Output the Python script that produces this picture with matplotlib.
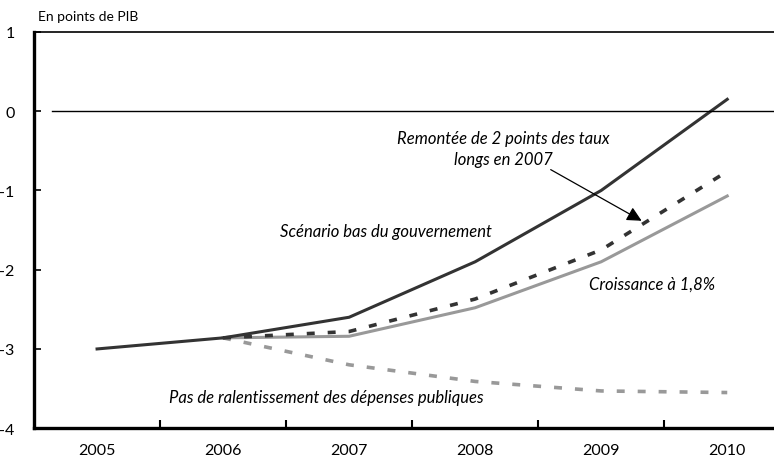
# Solde public : scénarios 2005-2010

import matplotlib.pyplot as plt

plt.rcParams['font.family'] = ['Lato', 'DejaVu Sans']

years = [2005, 2006, 2007, 2008, 2009, 2010]
bas_gouv = [-3.0, -2.86, -2.6, -1.9, -1.0, 0.15]
years_var = [2006, 2007, 2008, 2009, 2010]
remontee_taux = [-2.86, -2.78, -2.37, -1.75, -0.76]
croissance_18 = [-2.86, -2.84, -2.48, -1.9, -1.07]
pas_ralent = [-2.86, -3.2, -3.41, -3.53, -3.55]
yticks = [1, 0, -1, -2, -3, -4]

fig = plt.figure(figsize=(7.74, 4.64), dpi=100)
ax = fig.add_axes([0.044, 0.075, 0.977, 0.854])

dark = '#333333'
grey = '#999999'

ax.plot(years_var, pas_ralent, color=grey, lw=2.6, dashes=(2.2, 3.6))
ax.plot(years_var, croissance_18, color=grey, lw=2.2)
ax.plot(years_var, remontee_taux, color=dark, lw=2.6, dashes=(2.2, 3.6))
ax.plot(years, bas_gouv, color=dark, lw=2.2)
ax.axhline(0, xmin=0.024, color='black', lw=1)

ax.set_xlim(2004.5, 2010.5)
ax.set_ylim(-4, 1)
ax.set_xticks(years)
ax.set_xticks([y + 0.5 for y in years[:-1]], minor=True)
ax.tick_params(axis='x', which='major', length=0, pad=11, labelsize=11.5)
ax.tick_params(axis='x', which='minor', direction='in', length=6, width=1.5)
ax.set_yticks(yticks)
ax.set_yticklabels([str(v) for v in yticks])
ax.tick_params(axis='y', direction='in', length=5, width=1.2, pad=14, labelsize=11.5)

for s in ['left', 'bottom']:
    ax.spines[s].set_linewidth(2.4)
ax.spines['top'].set_linewidth(1.2)
ax.spines['right'].set_visible(False)

txt = dict(style='italic', fontsize=12, color='black', ha='center', va='center')
ax.text(2008.22, -0.47, 'Remontée de 2 points des taux\nlongs en 2007',
        linespacing=1.45, **txt)
ax.text(2007.29, -1.51, 'Scénario bas du gouvernement', **txt)
ax.text(2009.4, -2.18, 'Croissance à 1,8%', **txt)
ax.text(2006.82, -3.61, 'Pas de ralentissement des dépenses publiques', **txt)
ax.annotate('', xy=(2009.34, -1.4), xytext=(2008.58, -0.72),
            arrowprops=dict(arrowstyle='-|>', color='black', lw=0.9,
                            mutation_scale=22))

fig.text(0.049, 0.963, 'En points de PIB', fontsize=10, va='center')

fig.savefig('out.png', dpi=100)
